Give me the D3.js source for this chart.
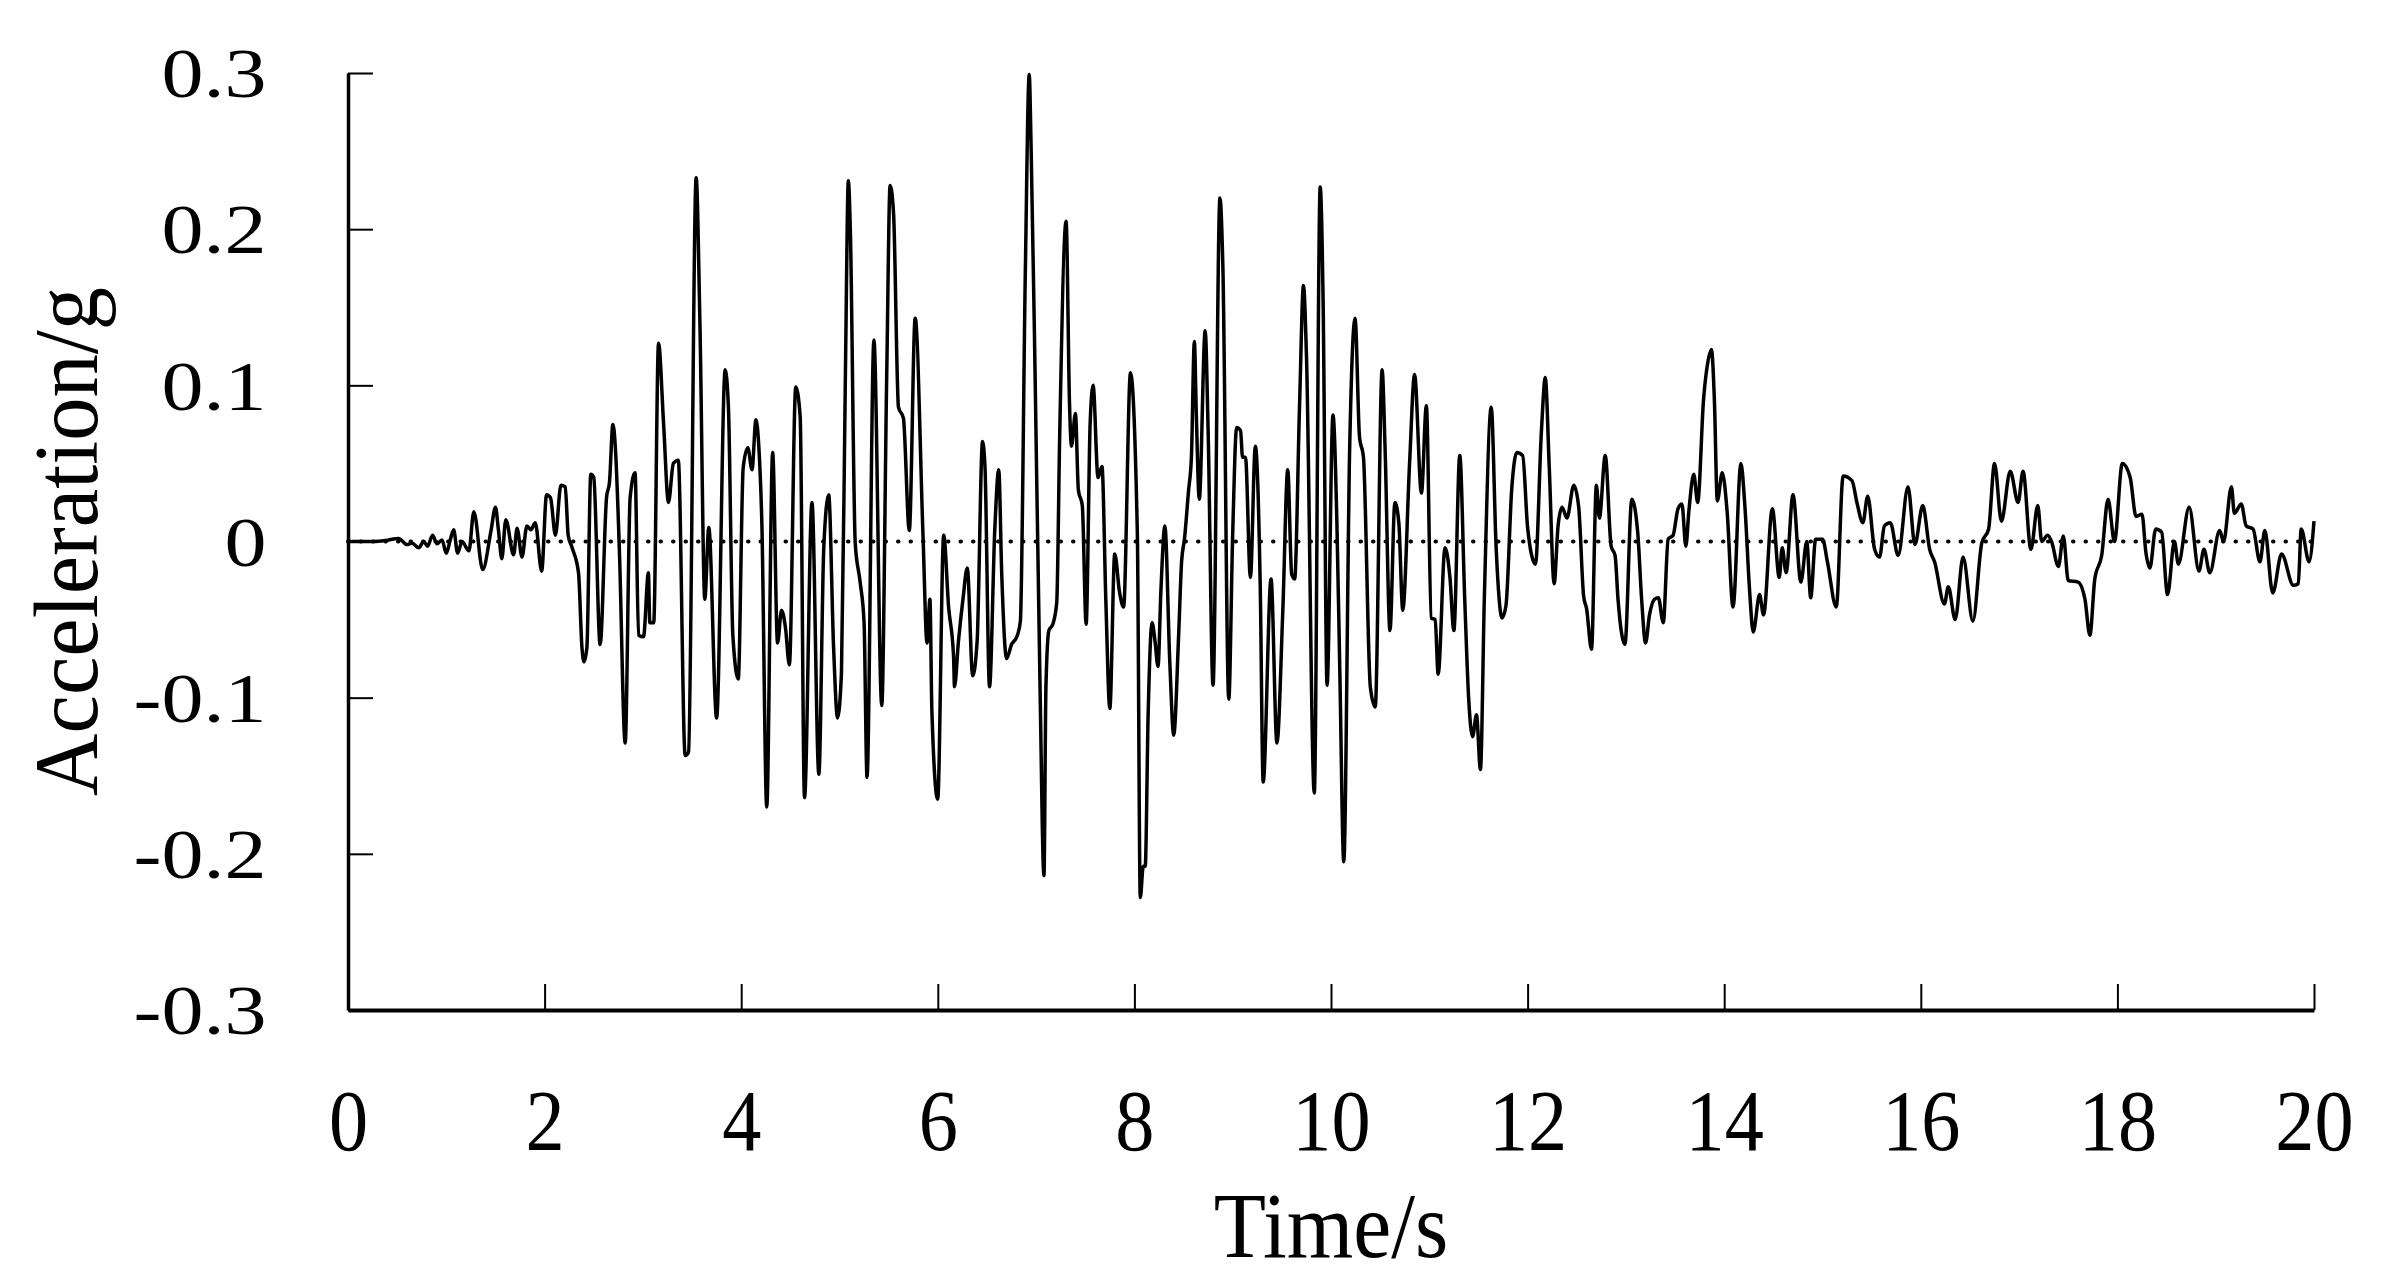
<!DOCTYPE html>
<html lang="en">
<head>
<meta charset="UTF-8">
<title>Acceleration time history</title>
<style>
  body { margin: 0; background: #fff; }
  svg { display: block; }
  text { font-family: "Liberation Serif", "Times New Roman", serif; fill: #000; }
</style>
</head>
<body>
<svg width="2381" height="1286"></svg>

<script src="https://d3js.org/d3.v7.min.js"></script>
<script>
// time (s) and acceleration (g), peak by peak
var timeS = [
  0, 0.26, 0.38, 0.515, 0.60, 0.65, 0.72, 0.77, 0.81, 0.86, 0.905, 0.956, 1.0, 1.04, 1.075, 1.115, 1.16, 1.23, 1.28, 1.37,
  1.455, 1.50, 1.53, 1.565, 1.605, 1.685, 1.72, 1.77, 1.82, 1.86, 1.905, 1.97, 2.02, 2.06, 2.11, 2.166, 2.21, 2.24, 2.28, 2.345,
  2.38, 2.40, 2.43, 2.47, 2.50, 2.565, 2.63, 2.66, 2.695, 2.72, 2.76, 2.82, 2.87, 2.92, 2.956, 3.006, 3.056, 3.07, 3.11, 3.159,
  3.21, 3.26, 3.31, 3.36, 3.43, 3.464, 3.542, 3.58, 3.63, 3.67, 3.75, 3.837, 3.87, 3.915, 3.97, 4.02, 4.067, 4.11, 4.15, 4.18,
  4.21, 4.26, 4.32, 4.37, 4.41, 4.45, 4.49, 4.555, 4.60, 4.644, 4.72, 4.79, 4.84, 4.89, 4.94, 4.98, 5.02, 5.06, 5.09, 5.11,
  5.16, 5.21, 5.25, 5.28, 5.35, 5.43, 5.48, 5.515, 5.55, 5.60, 5.65, 5.71, 5.77, 5.85, 5.89, 5.92, 5.94, 5.999, 6.06, 6.11,
  6.16, 6.17, 6.21, 6.256, 6.30, 6.355, 6.40, 6.455, 6.48, 6.526, 6.58, 6.62, 6.65, 6.70, 6.75, 6.81, 6.84, 6.89, 6.93, 6.95,
  6.99, 7.04, 7.08, 7.10, 7.13, 7.17, 7.21, 7.24, 7.305, 7.34, 7.36, 7.40, 7.43, 7.47, 7.509, 7.55, 7.58, 7.63, 7.67, 7.71,
  7.75, 7.80, 7.85, 7.89, 7.96, 8.03, 8.06, 8.09, 8.11, 8.14, 8.18, 8.21, 8.24, 8.27, 8.31, 8.36, 8.40, 8.45, 8.48, 8.51,
  8.55, 8.58, 8.61, 8.63, 8.66, 8.72, 8.75, 8.80, 8.87, 8.90, 8.96, 9.00, 9.04, 9.08, 9.10, 9.13, 9.18, 9.23, 9.28, 9.31,
  9.39, 9.45, 9.51, 9.56, 9.60, 9.63, 9.68, 9.72, 9.75, 9.83, 9.89, 9.92, 9.96, 10.02, 10.06, 10.09, 10.13, 10.19, 10.245, 10.29,
  10.33, 10.40, 10.45, 10.52, 10.55, 10.60, 10.65, 10.69, 10.73, 10.80, 10.85, 10.92, 10.97, 11.02, 11.06, 11.09, 11.16, 11.21, 11.25, 11.31,
  11.36, 11.40, 11.44, 11.48, 11.52, 11.56, 11.63, 11.68, 11.74, 11.78, 11.84, 11.89, 11.95, 12.0, 12.08, 12.14, 12.18, 12.22, 12.27, 12.31,
  12.35, 12.40, 12.47, 12.52, 12.57, 12.60, 12.65, 12.70, 12.73, 12.79, 12.85, 12.89, 12.92, 12.99, 13.06, 13.12, 13.16, 13.20, 13.24, 13.29,
  13.33, 13.38, 13.43, 13.48, 13.53, 13.57, 13.61, 13.64, 13.69, 13.73, 13.79, 13.84, 13.87, 13.90, 13.93, 13.98, 14.03, 14.09, 14.17, 14.21,
  14.26, 14.295, 14.36, 14.40, 14.49, 14.56, 14.59, 14.63, 14.70, 14.78, 14.84, 14.88, 14.93, 15.0, 15.05, 15.14, 15.21, 15.30, 15.35, 15.41,
  15.46, 15.53, 15.58, 15.63, 15.69, 15.77, 15.87, 15.94, 16.02, 16.09, 16.14, 16.24, 16.28, 16.35, 16.43, 16.53, 16.62, 16.69, 16.75, 16.82,
  16.91, 16.99, 17.04, 17.12, 17.19, 17.23, 17.29, 17.33, 17.40, 17.45, 17.50, 17.60, 17.67, 17.72, 17.77, 17.84, 17.905, 17.97, 18.05, 18.13,
  18.19, 18.25, 18.29, 18.33, 18.39, 18.45, 18.51, 18.58, 18.62, 18.73, 18.83, 18.88, 18.94, 19.04, 19.08, 19.16, 19.19, 19.26, 19.31, 19.38,
  19.45, 19.50, 19.58, 19.67, 19.79, 19.84, 19.87, 19.95, 20.0
];
var accelG = [
  0, 0, 0.0006, 0.002, -0.002, -0.001, -0.004, 0, -0.003, 0.004, -0.0015, 0.001, -0.0075, 0.001, 0.0075, -0.0075, 0, -0.006, 0.019, -0.018,
  0.007, 0.022, 0.0075, -0.011, 0.014, -0.0085, 0.0085, -0.01, 0.01, 0.0075, 0.012, -0.019, 0.03, 0.028, 0.004, 0.036, 0.035, 0.004, -0.004, -0.02,
  -0.068, -0.077, -0.068, 0.043, 0.041, -0.066, 0.028, 0.038, 0.075, 0.060, -0.004, -0.129, 0.028, 0.044, -0.06, -0.061, -0.02, -0.052, -0.052, 0.127,
  0.076, 0.025, 0.05, 0.052, -0.137, -0.135, 0.233, 0.14, -0.037, 0.009, -0.113, 0.11, 0.086, -0.06, -0.088, 0.047, 0.06, 0.046, 0.078, 0.06,
  0.012, -0.17, 0.057, -0.065, -0.044, -0.055, -0.079, 0.099, 0.08, -0.164, 0.025, -0.149, -0.004, 0.03, -0.068, -0.113, -0.084, 0.107, 0.231, 0.2,
  -0.001, -0.026, -0.052, -0.151, 0.129, -0.105, 0.105, 0.228, 0.21, 0.086, 0.079, 0.007, 0.143, 0.003, -0.065, -0.037, -0.109, -0.165, 0.004, -0.042,
  -0.073, -0.093, -0.064, -0.037, -0.017, -0.086, -0.064, 0.064, 0.048, -0.093, 0.008, 0.046, -0.02, -0.075, -0.066, -0.06, -0.051, 0.171, 0.299, 0.25,
  0.106, -0.093, -0.214, -0.093, -0.057, -0.053, -0.039, 0.068, 0.205, 0.088, 0.061, 0.082, 0.033, 0.023, -0.053, 0.076, 0.100, 0.041, 0.048, -0.039,
  -0.107, -0.008, -0.033, -0.042, 0.108, 0.005, -0.228, -0.208, -0.208, -0.11, -0.052, -0.064, -0.08, -0.031, 0.01, -0.077, -0.124, -0.06, -0.013, 0.002,
  0.032, 0.054, 0.128, 0.081, 0.027, 0.135, 0.071, -0.092, 0.22, 0.176, -0.101, 0.005, 0.073, 0.071, 0.054, 0.054, -0.023, 0.061, -0.028, -0.154,
  -0.024, -0.129, -0.044, 0.046, -0.021, -0.024, 0.087, 0.164, 0.12, -0.161, 0.227, 0.153, -0.092, 0.081, 0.012, -0.084, -0.205, 0.06, 0.143, 0.067,
  0.054, -0.093, -0.106, 0.11, 0.06, -0.057, 0.025, 0.012, -0.044, 0.051, 0.107, 0.031, 0.087, -0.049, -0.05, -0.085, -0.004, -0.023, -0.057, 0.055,
  -0.036, -0.10, -0.125, -0.111, -0.146, -0.036, 0.086, -0.004, -0.049, -0.041, 0.035, 0.057, 0.055, 0.009, -0.0145, 0.07, 0.105, 0.048, -0.027, 0.010,
  0.022, 0.015, 0.036, 0.022, -0.035, -0.043, -0.069, 0.036, 0.015, 0.055, -0.003, -0.009, -0.037, -0.066, 0.027, 0.006, -0.037, -0.065, -0.047, -0.037,
  -0.036, -0.052, 0.0015, 0.004, 0.021, 0.024, -0.003, 0.019, 0.043, 0.025, 0.091, 0.117, 0.123, 0.091, 0.026, 0.044, 0.019, -0.042, 0.05, 0.023,
  -0.033, -0.058, -0.034, -0.047, 0.021, -0.023, -0.004, -0.02, 0.03, -0.026, 0, -0.036, 0.0015, 0.0015, -0.013, -0.042, 0.042, 0.039, 0.025, 0.012,
  0.029, -0.005, -0.01, 0.01, 0.012, -0.009, 0.035, -0.002, 0.023, -0.005, -0.013, -0.04, -0.029, -0.05, -0.01, -0.051, -0.001, 0.008, 0.05, 0.013,
  0.045, 0.025, 0.045, -0.005, 0.023, 0, 0.004, 0, -0.016, 0.0036, -0.025, -0.026, -0.037, -0.06, -0.024, -0.009, 0.027, 0, 0.05, 0.041,
  0.016, 0.0175, -0.007, -0.017, 0.008, 0.006, -0.034, 0, -0.0145, 0.022, -0.019, -0.005, -0.02, 0.007, 0, 0.035, 0.018, 0.024, 0.01, 0.008,
  -0.013, 0.007, -0.033, -0.008, -0.028, -0.027, 0.008, -0.013, 0.013
];

var xTickValues = [0, 2, 4, 6, 8, 10, 12, 14, 16, 18, 20];
var yTickValues = [-0.3, -0.2, -0.1, 0, 0.1, 0.2, 0.3];
var yTickLabels = ["-0.3", "-0.2", "-0.1", "0", "0.1", "0.2", "0.3"];

var svg = d3.select("svg");

var x = d3.scaleLinear().domain([0, 20]).range([348, 2314]);
var y = d3.scaleLinear().domain([-0.3, 0.3]).range([1010, 73]);

var points = timeS.map(function(t, i) { return { t: t, a: accelG[i] }; });

// x axis, ticks pointing up into the plot
var gx = svg.append("g")
    .attr("transform", "translate(0," + y(-0.3) + ")")
    .call(d3.axisBottom(x)
        .tickValues(xTickValues)
        .tickFormat(function(d) { return d; })
        .tickSizeInner(-26)
        .tickSizeOuter(0));
gx.select(".domain").attr("stroke", "#000").attr("stroke-width", 4);
gx.selectAll(".tick line").attr("stroke", "#000").attr("stroke-width", 2);
gx.selectAll(".tick text")
    .attr("y", 140)
    .attr("dy", 0)
    .attr("transform", "scale(0.9,1)")
    .attr("font-size", 87)
    .attr("font-family", null);

// y axis, ticks pointing right
var gy = svg.append("g")
    .attr("transform", "translate(" + x(0) + ",0)")
    .call(d3.axisLeft(y)
        .tickValues(yTickValues)
        .tickFormat(function(d, i) { return yTickLabels[i]; })
        .tickSizeInner(-25)
        .tickSizeOuter(0));
gy.select(".domain").attr("stroke", "#000").attr("stroke-width", 3.5);
gy.selectAll(".tick line").attr("stroke", "#000").attr("stroke-width", 2);
gy.selectAll(".tick text")
    .attr("x", -68)
    .attr("dy", "0.34em")
    .attr("transform", "scale(1.2,1)")
    .attr("font-size", 70)
    .attr("font-family", null);

// dotted zero line
svg.append("line")
    .attr("x1", x(0))
    .attr("x2", x(20))
    .attr("y1", y(0))
    .attr("y2", y(0))
    .attr("stroke", "#000")
    .attr("stroke-width", 4)
    .attr("stroke-linecap", "round")
    .attr("stroke-dasharray", "0.5,12");

// the record
var line = d3.line()
    .curve(d3.curveMonotoneX)
    .x(function(d) { return x(d.t); })
    .y(function(d) { return y(d.a); });

svg.append("path")
    .datum(points)
    .attr("d", line)
    .attr("fill", "none")
    .attr("stroke", "#000")
    .attr("stroke-width", 3.5)
    .attr("stroke-linejoin", "round");

// axis titles
svg.append("text")
    .attr("transform", "translate(" + x(10) + ",1257) scale(0.92,1)")
    .attr("text-anchor", "middle")
    .attr("font-size", 93)
    .text("Time/s");

svg.append("text")
    .attr("transform", "translate(97," + ((y(-0.3) + y(0.3)) / 2) + ") rotate(-90) scale(0.95,1)")
    .attr("text-anchor", "middle")
    .attr("font-size", 91)
    .text("Acceleration/g");
</script>
</body>
</html>
